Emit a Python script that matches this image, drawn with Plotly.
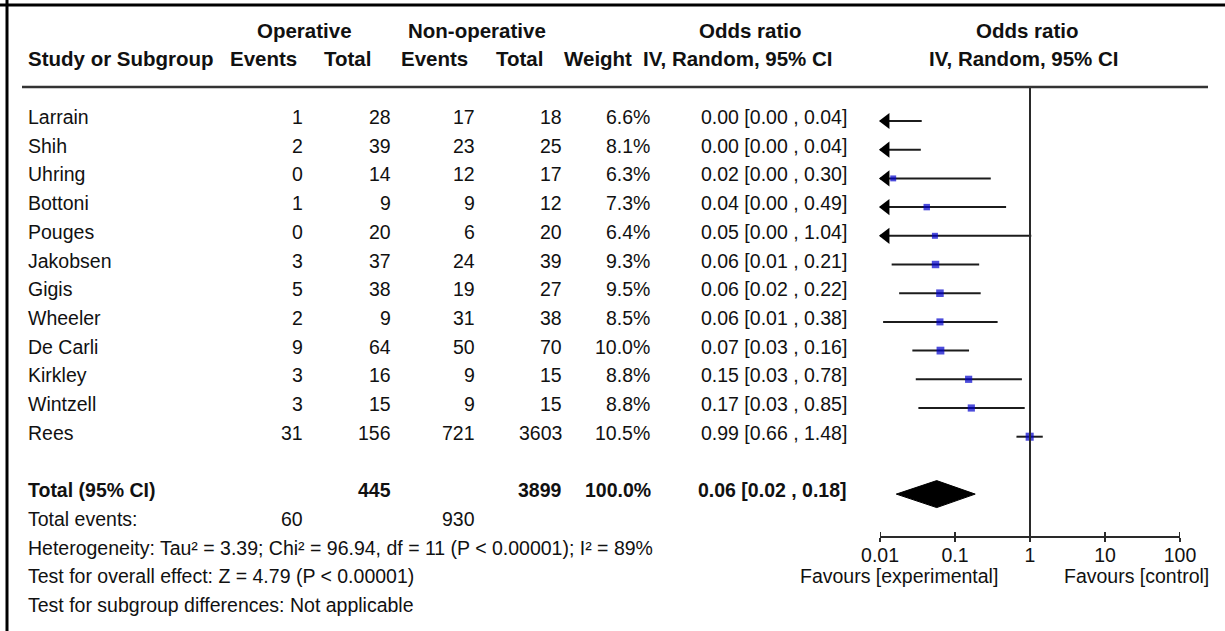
import plotly.graph_objects as go

# ---------------- data ----------------
studies = ["Larrain", "Shih", "Uhring", "Bottoni", "Pouges", "Jakobsen", "Gigis",
           "Wheeler", "De Carli", "Kirkley", "Wintzell", "Rees"]
op_events = [1, 2, 0, 1, 0, 3, 5, 2, 9, 3, 3, 31]
op_total = [28, 39, 14, 9, 20, 37, 38, 9, 64, 16, 15, 156]
nonop_events = [17, 23, 12, 9, 6, 24, 19, 31, 50, 9, 9, 721]
nonop_total = [18, 25, 17, 12, 20, 39, 27, 38, 70, 15, 15, 3603]
weights = [6.6, 8.1, 6.3, 7.3, 6.4, 9.3, 9.5, 8.5, 10.0, 8.8, 8.8, 10.5]
or_text = ["0.00 [0.00 , 0.04]", "0.00 [0.00 , 0.04]", "0.02 [0.00 , 0.30]",
           "0.04 [0.00 , 0.49]", "0.05 [0.00 , 1.04]", "0.06 [0.01 , 0.21]",
           "0.06 [0.02 , 0.22]", "0.06 [0.01 , 0.38]", "0.07 [0.03 , 0.16]",
           "0.15 [0.03 , 0.78]", "0.17 [0.03 , 0.85]", "0.99 [0.66 , 1.48]"]
# point estimates / CI read from the plotted marks
or_est = [0.0007, 0.0008, 0.015, 0.042, 0.054, 0.055, 0.063, 0.063, 0.064, 0.152, 0.165, 0.99]
ci_low = [0.00002, 0.00002, 0.0005, 0.001, 0.001, 0.0143, 0.018, 0.011, 0.027, 0.030, 0.0325, 0.66]
ci_high = [0.036, 0.035, 0.30, 0.48, 1.04, 0.21, 0.22, 0.37, 0.154, 0.78, 0.85, 1.48]

total_label = "Total (95% CI)"
total_op = 445
total_nonop = 3899
total_weight = "100.0%"
total_or_text = "0.06 [0.02 , 0.18]"
total_or = [0.0165, 0.057, 0.186]   # low, estimate, high (diamond)
events_op_total = 60
events_nonop_total = 930
footer = ["Heterogeneity: Tau² = 3.39; Chi² = 96.94, df = 11 (P < 0.00001); I² = 89%",
          "Test for overall effect: Z = 4.79 (P < 0.00001)",
          "Test for subgroup differences: Not applicable"]
tick_vals = [0.01, 0.1, 1, 10, 100]
tick_text = ["0.01", "0.1", "1", "10", "100"]
favours = ["Favours [experimental]", "Favours [control]"]

# ---------------- layout helpers ----------------
W, H = 1225, 631
ROW0, ROWH = 121, 28.7
FONT = "Liberation Sans, Arial, sans-serif"
FS = 19.5
TXT = "#111111"


def yi(px):
    return (px - ROW0) / ROWH


def xp(px):
    return px / W


fig = go.Figure()
n = len(studies)
rows = list(range(n))
TOTAL_ROW = 13

# CI lines
lx, ly = [], []
for i in rows:
    lx += [ci_low[i], ci_high[i], None]
    ly += [i, i, None]
fig.add_trace(go.Scatter(x=lx, y=ly, mode="lines", line=dict(color="#1c1c1c", width=2),
                         hoverinfo="skip", showlegend=False))

# arrows for CIs running off the left edge
arr_y = [i for i in rows if ci_low[i] < tick_vals[0]]
fig.add_trace(go.Scatter(x=[tick_vals[0] * 1.2] * len(arr_y), y=arr_y, mode="markers",
                         marker=dict(symbol="triangle-left", size=14, color="black"),
                         cliponaxis=False, hoverinfo="skip", showlegend=False))

# point estimates
fig.add_trace(go.Scatter(x=or_est, y=rows, mode="markers",
                         marker=dict(symbol="square", color="#0000CC",
                                     size=[0.5 * w + 2.8 for w in weights], line=dict(width=0)),
                         hoverinfo="skip", showlegend=False))

# diamond
dh = 0.47
fig.add_trace(go.Scatter(x=[total_or[0], total_or[1], total_or[2], total_or[1], total_or[0]],
                         y=[TOTAL_ROW, TOTAL_ROW - dh, TOTAL_ROW, TOTAL_ROW + dh, TOTAL_ROW],
                         mode="lines", fill="toself", fillcolor="black",
                         line=dict(color="black", width=1), hoverinfo="skip", showlegend=False))

# line of no effect
AX_Y = yi(537)
fig.add_trace(go.Scatter(x=[1, 1], y=[yi(87), AX_Y], mode="lines",
                         line=dict(color="#2a2a2a", width=2), hoverinfo="skip", showlegend=False))

# upper part of crossing ticks
tx, ty = [], []
for t in tick_vals:
    tx += [t, t, None]
    ty += [AX_Y, AX_Y - 5 / ROWH, None]
fig.add_trace(go.Scatter(x=tx, y=ty, mode="lines", line=dict(color="#2a2a2a", width=2),
                         cliponaxis=False, hoverinfo="skip", showlegend=False))

ann = []


def text(x_px, y, s, anchor="left", bold=False, size=FS, shift=4):
    ann.append(dict(x=xp(x_px), y=y, xref="paper", yref="y", text=("<b>%s</b>" % s) if bold else s,
                    showarrow=False, xanchor=anchor, yanchor="middle", yshift=shift,
                    font=dict(family=FONT, size=size, color=TXT)))


# headers
HS = 20.5
h1, h2 = yi(30), yi(58)
text(304, h1, "Operative", "center", True, HS, 0)
text(477, h1, "Non-operative", "center", True, HS, 0)
text(750, h1, "Odds ratio", "center", True, HS, 0)
text(1027, h1, "Odds ratio", "center", True, HS, 0)
text(26, h2, "Study or Subgroup", "left", True, HS, 0)
text(299, h2, "Events", "right", True, HS, 0)
text(373, h2, "Total", "right", True, HS, 0)
text(470, h2, "Events", "right", True, HS, 0)
text(545, h2, "Total", "right", True, HS, 0)
text(634, h2, "Weight", "right", True, HS, 0)
text(738, h2, "IV, Random, 95% CI", "center", True, HS, 0)
text(1024, h2, "IV, Random, 95% CI", "center", True, HS, 0)

# study rows
for i in rows:
    text(26, i, studies[i])
    text(305, i, str(op_events[i]), "right")
    text(393, i, str(op_total[i]), "right")
    text(477, i, str(nonop_events[i]), "right")
    text(564, i, str(nonop_total[i]), "right")
    text(652, i, "%.1f%%" % weights[i], "right")
    text(849, i, or_text[i], "right")

# total rows
text(26, TOTAL_ROW, total_label, "left", True)
text(393, TOTAL_ROW, str(total_op), "right", True)
text(564, TOTAL_ROW, str(total_nonop), "right", True)
text(653, TOTAL_ROW, total_weight, "right", True)
text(849, TOTAL_ROW, total_or_text, "right", True)
text(26, 14, "Total events:")
text(305, 14, str(events_op_total), "right")
text(477, 14, str(events_nonop_total), "right")
for k, s in enumerate(footer):
    text(26, 15 + k, s)

# favours labels
text(1000, yi(576), favours[0], "right", shift=0)
text(1211, yi(576), favours[1], "right", shift=0)

shapes = [
    # header rule
    dict(type="line", xref="paper", yref="y", x0=xp(22), x1=xp(1208), y0=yi(87), y1=yi(87),
         line=dict(color="#333333", width=2.5)),
    # frame
    dict(type="line", xref="paper", yref="paper", x0=0, x1=1, y0=1 - 5 / H, y1=1 - 5 / H,
         line=dict(color="black", width=3)),
    dict(type="line", xref="paper", yref="paper", x0=xp(7), x1=xp(7), y0=0, y1=1,
         line=dict(color="black", width=3)),
]

fig.update_layout(
    width=W, height=H, margin=dict(l=0, r=0, t=0, b=0, pad=0, autoexpand=False),
    paper_bgcolor="white", plot_bgcolor="white",
    xaxis=dict(type="log", range=[-2, 2], domain=[xp(880), xp(1180)], anchor="free",
               position=1 - 537 / H, showline=True, linecolor="#2a2a2a", linewidth=2,
               ticks="outside", ticklen=4, tickwidth=2, tickcolor="#2a2a2a",
               ticklabelstandoff=-3, automargin=False,
               tickvals=tick_vals, ticktext=tick_text, showgrid=False, zeroline=False,
               tickfont=dict(family=FONT, size=FS, color=TXT)),
    yaxis=dict(range=[yi(H), yi(0)], domain=[0, 1], visible=False, showgrid=False,
               zeroline=False, automargin=False),
    annotations=ann, shapes=shapes, showlegend=False,
)

fig.write_html("out.html", config={"displayModeBar": False},
               post_script="document.body.style.margin='0';document.body.style.overflow='hidden';")
